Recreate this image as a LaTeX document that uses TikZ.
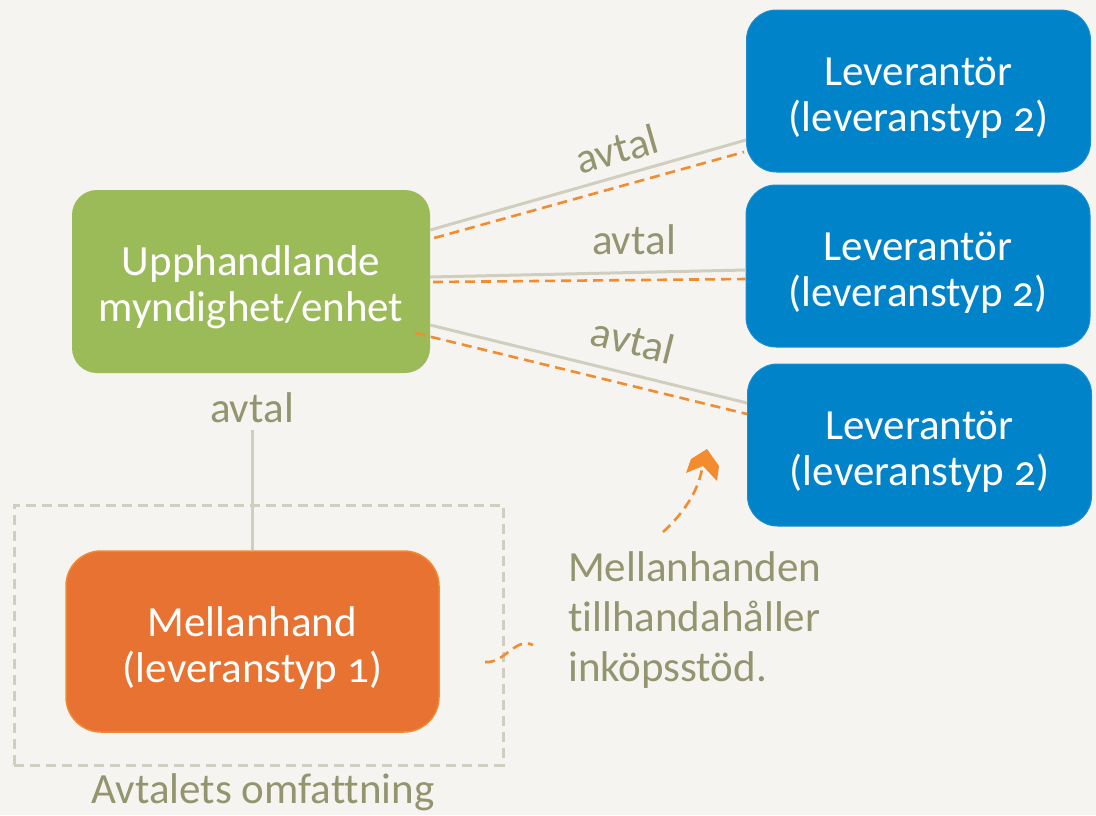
\documentclass[tikz,border=0pt]{standalone}
\usepackage{fontspec}
\setmainfont{Carlito}[Numbers=OldStyle,Ligatures=NoCommon]
\usetikzlibrary{calc}
\definecolor{bgc}{HTML}{F5F4F0}
\definecolor{grn}{HTML}{9BBB59}
\definecolor{blu}{HTML}{0083C9}
\definecolor{blub}{HTML}{1A8FD0}
\definecolor{org}{HTML}{E87231}
\definecolor{orgb}{HTML}{F08A30}
\definecolor{ordash}{HTML}{F28C2E}
\definecolor{gline}{HTML}{D0CFBF}
\definecolor{olive}{HTML}{93956F}
\newcommand{\tallstrut}{\rule{0pt}{42pt}}
\tikzset{
  boxtext/.style={font=\fontsize{43}{46}\selectfont, text=white, align=center, inner sep=0pt},
  greenbox/.style={boxtext, fill=grn, rounded corners=25pt, minimum width=358pt, minimum height=183pt},
  bluebox/.style={boxtext, fill=blu, draw=blub, line width=1pt, rounded corners=30pt, minimum width=344pt, minimum height=162pt},
  orangebox/.style={boxtext, fill=org, draw=orgb, line width=1.5pt, rounded corners=35pt, minimum width=373pt, minimum height=181pt},
  lbl/.style={font=\fontsize{43}{50}\selectfont, text=olive, inner sep=0pt},
  grayline/.style={draw=gline, line width=3pt},
  odash/.style={draw=ordash, line width=2.6pt, dash pattern=on 10pt off 6pt},
  scopebox/.style={draw=gline, line width=3pt, dash pattern=on 10pt off 6pt, minimum width=489pt, minimum height=260pt, inner sep=0pt}
}
\begin{document}
\begin{tikzpicture}[x=1pt,y=-1pt]
\useasboundingbox (0,0) rectangle (1096,815);
\fill[bgc] (0,0) rectangle (1096,815);

\node[scopebox] (omf) at (258.5,635) {};
\node[lbl, anchor=north] (omflbl) at (263,773) {Avtalets omfattning};

\node[greenbox] (g) at (251,281.5) {\tallstrut Upphandlande\\myndighet/enhet};
\node[bluebox] (b1) at (918.5,91) {\tallstrut Leverantör\\(leveranstyp 2)};
\node[bluebox] (b2) at (918,266) {\tallstrut Leverantör\\(leveranstyp 2)};
\node[bluebox] (b3) at (919.5,445) {\tallstrut Leverantör\\(leveranstyp 2)};
\node[orangebox] (m) at (252.5,641.5) {\tallstrut Mellanhand\\(leveranstyp 1)};

\node[lbl] (av0) at (252,408) {avtal};
\draw[grayline] (m.north |- 0,430) -- (m.north);

\node[lbl, rotate=16] (av1) at (617,149) {avtal};
\node[lbl] (av2) at (634,240) {avtal};
\node[lbl, rotate=-14] (av3) at (633,340) {avtal};

\draw[grayline] (g.east |- 0,230) -- (b1.west |- 0,140);
\draw[grayline] (g.east |- 0,277) -- (b2.west |- 0,270);
\draw[grayline] (g.east |- 0,325) -- (b3.west |- 0,403);

\draw[odash] ($(g.east |- 0,238)+(4,0)$) -- ($(b1.west |- 0,152)+(-2,0)$);
\draw[odash] ($(g.east |- 0,282)+(3,0)$) -- (b2.west |- 0,279);
\draw[odash] ($(g.east |- 0,333)+(-15,0)$) -- (b3.west |- 0,414);

\node[lbl, anchor=north west, align=left] (txt) at (568,551) {Mellanhanden\\tillhandahåller\\inköpsstöd.};

\coordinate (c1) at (485,662);
\coordinate (c2) at (533,645);
\coordinate (c3) at (663,532);
\coordinate (c4) at (702,469);
\draw[odash] (c1) to[out=-5,in=155] (c2);
\draw[odash] (c3) .. controls (682,515) and (698,492) .. (c4);
\fill[ordash] (686,473) -- (691,459) -- (707,449) -- (719,466) -- (717,481) -- (703,466) -- cycle;
\end{tikzpicture}
\end{document}
